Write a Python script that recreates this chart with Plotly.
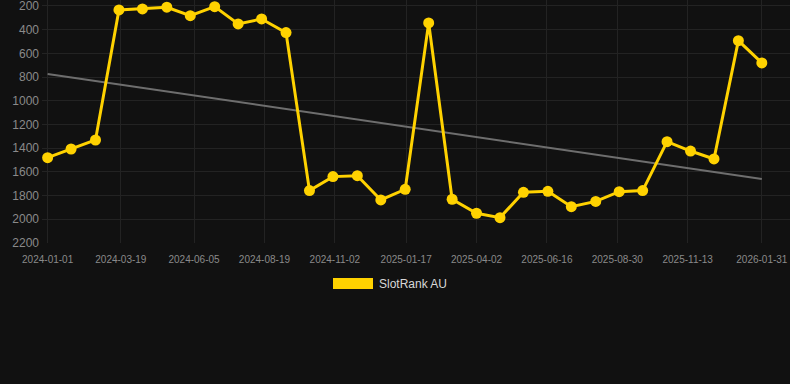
import plotly.graph_objects as go

dates = ["2024-01-01", "2024-01-26", "2024-02-21", "2024-03-17", "2024-04-11", "2024-05-07",
         "2024-06-01", "2024-06-27", "2024-07-22", "2024-08-16", "2024-09-11", "2024-10-06",
         "2024-10-31", "2024-11-26", "2024-12-21", "2025-01-16", "2025-02-10", "2025-03-07",
         "2025-04-02", "2025-04-27", "2025-05-22", "2025-06-17", "2025-07-12", "2025-08-07",
         "2025-09-01", "2025-09-26", "2025-10-22", "2025-11-16", "2025-12-11", "2026-01-06",
         "2026-01-31"]
rank = [1480, 1407, 1331, 234, 225, 211, 282, 206, 352, 310, 425, 1758,
        1640, 1632, 1837, 1747, 343, 1831, 1949, 1986, 1772, 1764, 1894, 1849,
        1767, 1758, 1345, 1424, 1491, 493, 681]

trend_dates = ["2024-01-01", "2026-01-31"]
trend_vals = [774, 1660]

x_ticks = ["2024-01-01", "2024-03-19", "2024-06-05", "2024-08-19", "2024-11-02", "2025-01-17",
           "2025-04-02", "2025-06-16", "2025-08-30", "2025-11-13", "2026-01-31"]
y_ticks = [200, 400, 600, 800, 1000, 1200, 1400, 1600, 1800, 2000, 2200]

series_name = "SlotRank AU"
gold = "#FFD200"

fig = go.Figure()
fig.add_trace(go.Scatter(x=trend_dates, y=trend_vals, mode="lines",
                         line=dict(color="#6e6e6e", width=2), showlegend=False, hoverinfo="skip"))
fig.add_trace(go.Scatter(x=dates, y=rank, mode="lines+markers", name=series_name,
                         line=dict(color=gold, width=3),
                         marker=dict(color=gold, size=11), showlegend=False))

font = "Liberation Sans, Arial, sans-serif"
fig.update_layout(
    width=790, height=384,
    margin=dict(l=42, r=0, t=0, b=141, autoexpand=False),
    paper_bgcolor="#111111", plot_bgcolor="#111111",
    font=dict(family=font, color="#888888"),
    xaxis=dict(type="date", range=["2023-12-26", "2026-03-02"],
               tickvals=x_ticks, ticktext=x_ticks,
               tickfont=dict(size=10, color="#8a8a8a"),
               ticklabelstandoff=9, ticklabeloverflow="allow",
               showgrid=True, gridcolor="#232323", gridwidth=1,
               zeroline=False, showline=False, ticks=""),
    yaxis=dict(range=[2200, 150], tickvals=y_ticks,
               tickfont=dict(size=12, color="#8a8a8a"),
               ticklabelstandoff=2, ticklabeloverflow="allow",
               showgrid=True, gridcolor="#232323", gridwidth=1,
               zeroline=False, showline=False, ticks=""),
    shapes=[dict(type="rect", xref="paper", yref="paper",
                 x0=(333 - 42) / 748, x1=(373 - 42) / 748,
                 y0=-(278 - 243) / 243, y1=-(289 - 243) / 243,
                 fillcolor=gold, line=dict(width=0))],
    annotations=[dict(text=series_name, xref="paper", yref="paper",
                      x=(377 - 42) / 748, y=-(284 - 243) / 243,
                      xanchor="left", yanchor="middle", showarrow=False,
                      font=dict(size=12, color="#d8d8d8", family=font))],
)

fig.write_html("out.html")
